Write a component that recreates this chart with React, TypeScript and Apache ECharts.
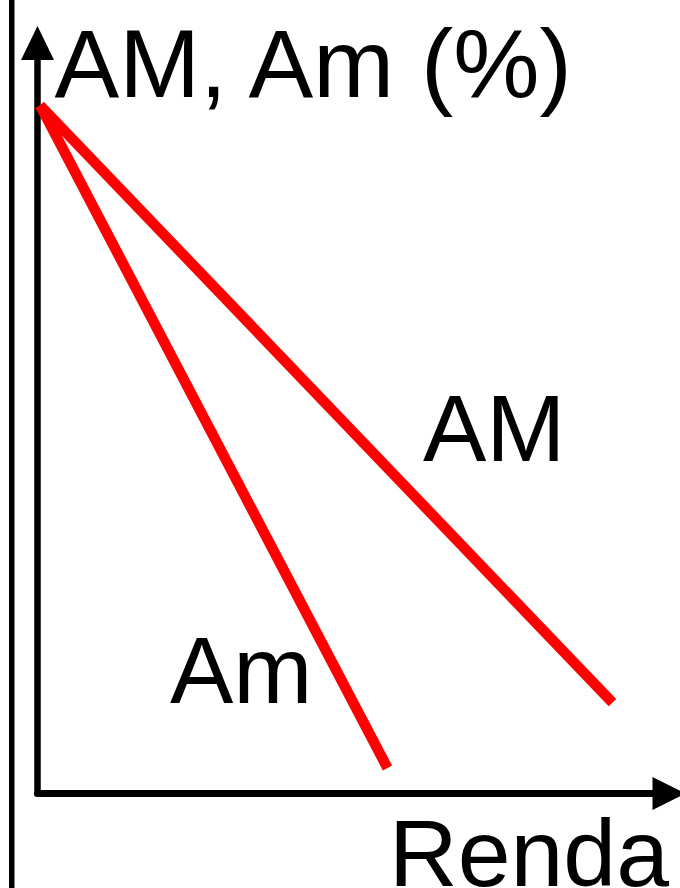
import React, { useEffect, useRef } from "react";
import * as echarts from "echarts";

const yAxisTitle = "AM, Am (%)";
const xAxisTitle = "Renda";
const seriesNames = ["AM", "Am"];
// [renda, percent] in arbitrary 0-100 units
const amPoints = [
  [0.4, 91.7],
  [91.05, 12.1],
];
const amSmallPoints = [
  [0.4, 91.7],
  [55.42, 3.4],
];

const FONT = "'Liberation Sans', Arial, Helvetica, sans-serif";

export default function App() {
  const ref = useRef<HTMLDivElement>(null);
  useEffect(() => {
    if (!ref.current) return;
    const chart = echarts.init(ref.current, undefined, { renderer: "svg" });
    chart.setOption({
      animation: false,
      backgroundColor: "#ffffff",
      grid: {
        left: 37.5,
        right: 11,
        top: 43,
        bottom: 94.5,
        containLabel: false,
        outerBoundsMode: "none",
      },
      xAxis: {
        type: "value",
        min: 0,
        max: 100,
        name: xAxisTitle,
        nameLocation: "end",
        nameGap: 0,
        nameTextStyle: {
          fontFamily: FONT,
          fontSize: 95,
          lineHeight: 95,
          color: "#000",
          align: "right",
          verticalAlign: "top",
          padding: [12, 0, 0, 0],
        },
        axisLine: {
          show: true,
          symbol: ["none", "triangle"],
          symbolSize: [33, 33],
          lineStyle: { color: "#000", width: 7 },
        },
        axisTick: { show: false },
        axisLabel: { show: false },
        splitLine: { show: false },
      },
      yAxis: {
        type: "value",
        min: 0,
        max: 100,
        name: yAxisTitle,
        nameLocation: "end",
        nameGap: -20,
        nameTextStyle: {
          fontFamily: FONT,
          fontSize: 97,
          lineHeight: 97,
          color: "#000",
          align: "left",
          verticalAlign: "middle",
          padding: [0, 0, 0, 17],
        },
        axisLine: {
          show: true,
          symbol: ["none", "triangle"],
          symbolSize: [33, 34],
          lineStyle: { color: "#000", width: 6.5 },
        },
        axisTick: { show: false },
        axisLabel: { show: false },
        splitLine: { show: false },
      },
      graphic: [
        {
          type: "rect",
          shape: { x: 9, y: 0, width: 5.5, height: 888 },
          style: { fill: "#000" },
        },
        {
          type: "text",
          x: 423,
          y: 428,
          style: {
            text: seriesNames[0],
            font: `95px ${FONT}`,
            fill: "#000",
            align: "left",
            verticalAlign: "middle",
          },
        },
        {
          type: "text",
          x: 170,
          y: 670,
          style: {
            text: seriesNames[1],
            font: `95px ${FONT}`,
            fill: "#000",
            align: "left",
            verticalAlign: "middle",
          },
        },
      ],
      series: [
        {
          name: seriesNames[0],
          type: "line",
          data: amPoints,
          showSymbol: false,
          symbol: "none",
          lineStyle: { color: "#ff0000", width: 10.5 },
          z: 3,
        },
        {
          name: seriesNames[1],
          type: "line",
          data: amSmallPoints,
          showSymbol: false,
          symbol: "none",
          lineStyle: { color: "#ff0000", width: 10.5 },
          z: 3,
        },
      ],
    });
    return () => chart.dispose();
  }, []);
  return (
    <div
      ref={ref}
      style={{ position: "absolute", left: 0, top: 0, width: 680, height: 888 }}
    />
  );
}
